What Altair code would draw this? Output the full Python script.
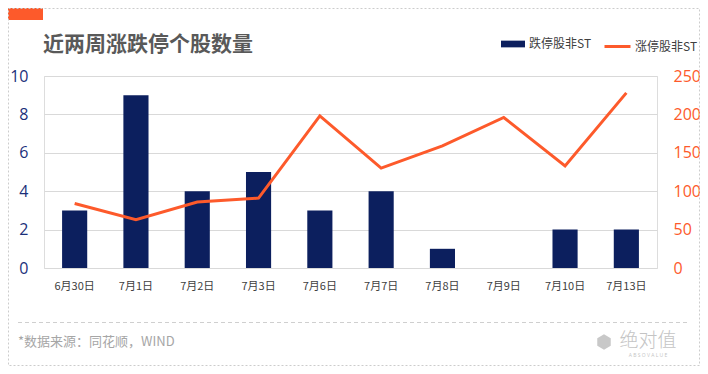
import altair as alt
import pandas as pd

dates = ["6月30日", "7月1日", "7月2日", "7月3日", "7月6日", "7月7日", "7月8日", "7月9日", "7月10日", "7月13日"]
limit_down = [3, 9, 4, 5, 3, 4, 1, 0, 2, 2]
limit_up = [84, 63, 86, 91, 198, 130, 159, 196, 133, 228]
left_ticks = [0, 2, 4, 6, 8, 10]
right_ticks = [0, 50, 100, 150, 200, 250]

NAVY = "#0c1f5e"
ORANGE = "#fd5a2b"
FONT = "Noto Sans CJK SC"
NUMFONT = "Open Sans"

df = pd.DataFrame({"date": dates, "down": limit_down, "up": limit_up})

W, H = 613, 192
PL, PT = 36, 68
TOTW, TOTH = 692, 358

x = alt.X(
    "date:N", sort=dates, title=None,
    scale=alt.Scale(paddingInner=0.59, paddingOuter=0.295),
    axis=alt.Axis(labelAngle=0, labelFontSize=11, labelColor="#404040", labelFont=FONT,
                  domain=False, ticks=False, labelPadding=12),
)

bars = alt.Chart(df).mark_bar(color=NAVY).transform_calculate(s="'跌停股非ST'").encode(
    x=x,
    y=alt.Y("down:Q", title=None, scale=alt.Scale(domain=[0, 10], nice=False),
            axis=alt.Axis(values=left_ticks, orient="left", grid=True, gridColor="#d9d9d9",
                          domain=False, ticks=False, labelColor="#1b2f7a", labelFontSize=16,
                          labelFont=NUMFONT, labelPadding=16)),
    fill=alt.Fill("s:N", scale=alt.Scale(domain=["跌停股非ST"], range=[NAVY]),
                  legend=alt.Legend(orient="none", legendX=457, legendY=-44, title=None,
                                    padding=0, symbolType="M-1,-0.28H1V0.28H-1Z",
                                    symbolSize=576, symbolStrokeWidth=0, labelFont=FONT,
                                    labelFontSize=12, labelColor="#404040", labelOffset=4)),
)

line = alt.Chart(df).mark_line(color=ORANGE, strokeWidth=3).transform_calculate(s="'涨停股非ST'").encode(
    x=x,
    y=alt.Y("up:Q", title=None, scale=alt.Scale(domain=[0, 250], nice=False),
            axis=alt.Axis(values=right_ticks, orient="right", grid=False, domain=False,
                          ticks=False, labelColor=ORANGE, labelFontSize=16, labelFont=NUMFONT,
                          labelPadding=16)),
    stroke=alt.Stroke("s:N", scale=alt.Scale(domain=["涨停股非ST"], range=[ORANGE]),
                      legend=alt.Legend(orient="none", legendX=559, legendY=-44, title=None,
                                        padding=0, symbolType="stroke", symbolSize=676,
                                        symbolStrokeWidth=3, labelFont=FONT, labelFontSize=12,
                                        labelColor="#404040", labelOffset=3)),
)

one = pd.DataFrame({"t": [""]})

def txt(text, xv, yv, **kw):
    return alt.Chart(pd.DataFrame({"t": [text]})).mark_text(**kw).encode(
        x=alt.value(xv), y=alt.value(yv), text="t:N")

title = txt("近两周涨跌停个股数量", -1, -31, align="left", baseline="middle", font=FONT,
            fontSize=21, fontWeight="bold", color="#595959")
source = txt("*数据来源：同花顺，WIND", -26, 266, align="left", baseline="middle", font=FONT,
             fontSize=13, color="#a6a6a6")
logo = txt("绝对值", 604, 265, align="center", baseline="middle", font=FONT,
           fontSize=19, fontWeight=300, color="#c4c4c4")
logo_sub = txt("A B S O V A L U E", 604, 279, align="center", baseline="middle", font=NUMFONT,
               fontSize=5, color="#c4c4c4")
icon = alt.Chart(one).mark_point(
    shape="M0,-1L0.87,-0.5L0.87,0.5L0,1L-0.87,0.5L-0.87,-0.5Z", filled=True,
    color="#c8c8c8", size=240, opacity=1).encode(x=alt.value(560), y=alt.value(266))

orange_tab = alt.Chart(one).mark_rect(color=ORANGE).encode(
    x=alt.value(-36), x2=alt.value(-1), y=alt.value(-68), y2=alt.value(-56))
dash = alt.Chart(one).mark_rule(color="#cfcfcf", strokeDash=[4, 3], strokeWidth=1).encode(
    x=alt.value(-26), x2=alt.value(646), y=alt.value(246.5), y2=alt.value(246.5))
border = alt.Chart(one).mark_rect(fill=None, stroke="#cccccc", strokeDash=[2, 2],
                                  strokeWidth=1).encode(
    x=alt.value(-35.5), x2=alt.value(TOTW - PL - 0.5), y=alt.value(-67.5),
    y2=alt.value(TOTH - PT - 0.5))

chart = alt.layer(bars, line, title, source, logo, logo_sub, icon, orange_tab, dash, border).resolve_scale(
    y="independent", fill="independent", stroke="independent"
).properties(
    width=W, height=H,
    autosize=alt.AutoSizeParams(type="none"),
    padding={"left": PL, "top": PT, "right": TOTW - PL - W, "bottom": TOTH - PT - H},
).configure_view(stroke=None).configure(background="white")

chart.save("out.html", embed_options={"renderer": "svg", "actions": False})
